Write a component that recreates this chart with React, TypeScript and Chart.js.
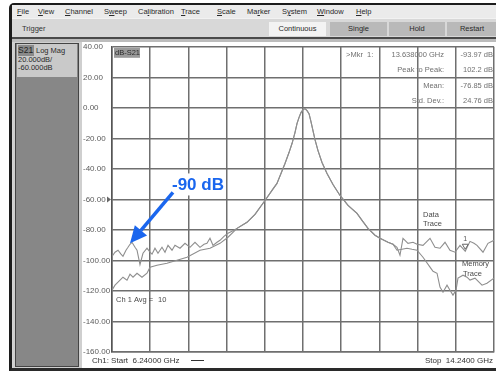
import React, { useEffect, useRef } from "react";
import { Chart, registerables } from "chart.js";
Chart.register(...registerables);

const FONT = '"Liberation Sans", Arial, sans-serif';
const GRID = "#6f6f6f";
const TRACE = "#8e8e8e";

// Axis ticks
const xGridGHz = [6.24, 7.04, 7.84, 8.64, 9.44, 10.24, 11.04, 11.84, 12.64, 13.44, 14.24];
const yTicksDb = [-160, -140, -120, -100, -80, -60, -40, -20, 0, 20, 40];

// Data trace, left noise floor
const dataLeftGHz = [6.240, 6.303, 6.366, 6.428, 6.470, 6.533, 6.575, 6.617, 6.659, 6.722, 6.764, 6.826, 6.889, 6.973, 7.036, 7.078, 7.140, 7.203, 7.287, 7.350, 7.413, 7.497, 7.559, 7.664, 7.769, 7.873, 7.978, 8.083, 8.167, 8.229, 8.292, 8.355, 8.439, 8.502, 8.585, 8.669, 8.753];
const dataLeftDb = [-97.3, -94.6, -93.3, -95.9, -97.3, -93.3, -91.4, -89.4, -88.1, -91.4, -93.3, -102.7, -95.3, -92.0, -94.6, -95.9, -92.0, -95.3, -91.4, -94.6, -90.1, -93.3, -90.1, -92.0, -88.8, -91.4, -88.1, -91.4, -89.4, -88.8, -85.5, -90.1, -88.1, -86.8, -84.2, -82.2, -80.9];

// Memory trace, left
const memLeftGHz = [6.240, 6.303, 6.366, 6.470, 6.554, 6.617, 6.680, 6.764, 6.868, 6.973, 7.036, 7.182, 7.392, 7.601, 7.811, 8.083, 8.292, 8.502, 8.669];
const memLeftDb = [-119.5, -116.2, -114.2, -111.0, -112.9, -109.0, -111.0, -108.4, -111.0, -108.4, -104.4, -103.1, -101.8, -99.9, -97.9, -93.3, -92.0, -88.8, -84.8];

// Resonance, common to both traces
const sharedGHz = [8.858, 9.067, 9.235, 9.444, 9.591, 9.695, 9.779, 9.863, 9.947, 10.010, 10.072, 10.114, 10.156, 10.198, 10.240, 10.282, 10.324, 10.366, 10.407, 10.449, 10.491, 10.554, 10.638, 10.743, 10.868, 11.015, 11.183, 11.371, 11.476, 11.601, 11.748, 11.852, 12.020, 12.125];
const sharedDb = [-79.0, -75.0, -69.8, -60.7, -54.1, -49.5, -43.0, -36.5, -29.3, -23.4, -16.2, -10.3, -6.4, -3.1, -1.2, -0.5, -1.8, -3.8, -9.0, -14.9, -20.8, -28.0, -35.8, -43.0, -50.2, -57.4, -63.9, -69.2, -73.7, -79.0, -83.5, -85.5, -88.1, -89.4];

// Data trace, right
const dataRightGHz = [12.208, 12.271, 12.334, 12.439, 12.544, 12.628, 12.753, 12.837, 12.900, 13.004, 13.109, 13.214, 13.318, 13.423, 13.528, 13.638, 13.737, 13.821, 13.884, 14.010, 14.114, 14.240];
const dataRightDb = [-91.4, -96.6, -85.5, -88.8, -88.1, -89.4, -90.1, -87.5, -85.5, -91.4, -92.0, -88.1, -93.3, -94.6, -90.1, -93.97, -87.5, -88.8, -90.1, -94.6, -88.8, -86.8];

// Memory trace, right
const memRightGHz = [12.208, 12.313, 12.418, 12.523, 12.628, 12.753, 12.900, 12.963, 13.047, 13.109, 13.172, 13.256, 13.318, 13.381, 13.444, 13.486, 13.591, 13.675, 13.737, 13.842, 13.905, 13.989, 14.093, 14.240];
const memRightDb = [-93.3, -92.7, -92.0, -92.7, -93.3, -97.9, -104.4, -107.1, -108.4, -117.5, -120.8, -116.2, -119.5, -122.7, -119.5, -111.6, -109.7, -111.0, -112.9, -111.6, -113.6, -116.2, -114.9, -111.6];

// Marker / annotation values
const markerGHz = 13.638;
const markerDb = -93.97;
const refLevelDb = -60;
const arrowFrom = [7.517, -55.4];
const arrowTo = [6.617, -88.8];
const arrowLabelAt = [7.496, -50.2];

const menuItems: [string, number, number][] = [
  ["File", 17, 0], ["View", 38, 0], ["Channel", 65, 0], ["Sweep", 104, 1], ["Calibration", 138, 2],
  ["Trace", 181, 0], ["Scale", 217, 0], ["Marker", 247, 2], ["System", 282, 1], ["Window", 317, 0], ["Help", 356, 0],
];

function pts(xs: number[], ys: number[]) {
  return xs.map((x, i) => ({ x, y: ys[i] }));
}

const overlay = {
  id: "overlay",
  afterDraw(chart: any) {
    const { ctx, chartArea: a, scales } = chart;
    const sx = scales.x, sy = scales.y;
    ctx.save();
    ctx.textBaseline = "middle";
    // dB-S21 tag
    ctx.fillStyle = "#9a9a9a";
    ctx.fillRect(a.left + 2, a.top + 1, 26, 10);
    ctx.font = `7.5px ${FONT}`;
    ctx.fillStyle = "#2a2a2a";
    ctx.textAlign = "left";
    ctx.fillText("dB-S21", a.left + 3, a.top + 6.5);

    // marker readout
    ctx.fillStyle = "#707070";
    ctx.font = `7.5px ${FONT}`;
    ctx.textAlign = "left";
    ctx.fillText(">Mkr  1:", a.left + 234, a.top + 8);
    ctx.textAlign = "right";
    const c1 = a.left + 332, c2 = a.right - 1;
    ctx.fillText("13.638000 GHz", c1, a.top + 8);
    ctx.fillText("-93.97 dB", c2, a.top + 8);
    ctx.fillText("Peak to Peak:", c1, a.top + 23);
    ctx.fillText("102.2 dB", c2, a.top + 23);
    ctx.fillText("Mean:", c1, a.top + 39);
    ctx.fillText("-76.85 dB", c2, a.top + 39);
    ctx.fillText("Std. Dev.:", c1, a.top + 54);
    ctx.fillText("24.76 dB", c2, a.top + 54);

    // averaging
    ctx.textAlign = "left";
    ctx.fillStyle = "#4a4a4a";
    ctx.font = `7.5px ${FONT}`;
    ctx.fillText("Ch 1 Avg =", a.left + 4, a.top + 253);
    ctx.fillText("10", a.left + 46, a.top + 253);

    // trace labels
    ctx.fillStyle = "#4a4a4a";
    ctx.font = `7.5px ${FONT}`;
    ctx.fillText("Data", a.left + 311, a.top + 168);
    ctx.fillText("Trace", a.left + 311, a.top + 177);
    ctx.fillText("Memory", a.left + 350, a.top + 217);
    ctx.fillText("Trace", a.left + 351, a.top + 227);

    // reference level marker
    const ry = sy.getPixelForValue(refLevelDb);
    ctx.fillStyle = "#666";
    ctx.beginPath();
    ctx.moveTo(a.left - 5, ry - 3);
    ctx.lineTo(a.left - 5, ry + 3);
    ctx.lineTo(a.left - 1, ry);
    ctx.closePath();
    ctx.fill();

    // marker 1
    const mx = sx.getPixelForValue(markerGHz), my = sy.getPixelForValue(markerDb);
    ctx.strokeStyle = "#666";
    ctx.lineWidth = 1;
    ctx.beginPath();
    ctx.moveTo(mx - 3, my - 7);
    ctx.lineTo(mx + 3, my - 7);
    ctx.lineTo(mx, my - 2);
    ctx.closePath();
    ctx.stroke();
    ctx.fillStyle = "#555";
    ctx.font = `7px ${FONT}`;
    ctx.textAlign = "center";
    ctx.fillText("1", mx, my - 12);

    // blue annotation
    const tx = sx.getPixelForValue(arrowLabelAt[0]), ty = sy.getPixelForValue(arrowLabelAt[1]);
    ctx.font = `bold 17px ${FONT}`;
    const w = ctx.measureText("-90 dB").width;
    ctx.fillStyle = "#ffffff";
    ctx.fillRect(tx - 2, ty - 11, w + 4, 22);
    ctx.fillStyle = "#1a66ee";
    ctx.textAlign = "left";
    ctx.fillText("-90 dB", tx, ty + 1);

    const x0 = sx.getPixelForValue(arrowFrom[0]), y0 = sy.getPixelForValue(arrowFrom[1]);
    const x1 = sx.getPixelForValue(arrowTo[0]), y1 = sy.getPixelForValue(arrowTo[1]);
    const ang = Math.atan2(y1 - y0, x1 - x0);
    const hl = 17, hw = 8;
    const bx = x1 - hl * Math.cos(ang), by = y1 - hl * Math.sin(ang);
    ctx.strokeStyle = "#1a66ee";
    ctx.lineWidth = 3.5;
    ctx.beginPath();
    ctx.moveTo(x0, y0);
    ctx.lineTo(bx, by);
    ctx.stroke();
    ctx.fillStyle = "#1a66ee";
    ctx.beginPath();
    ctx.moveTo(x1, y1);
    ctx.lineTo(bx + hw * Math.sin(ang), by - hw * Math.cos(ang));
    ctx.lineTo(bx - hw * Math.sin(ang), by + hw * Math.cos(ang));
    ctx.closePath();
    ctx.fill();
    ctx.restore();
  },
};

const abs = (s: React.CSSProperties): React.CSSProperties => ({ position: "absolute", ...s });
const txt: React.CSSProperties = { fontSize: 8, color: "#2a2a2a", whiteSpace: "nowrap", lineHeight: "10px" };

export default function App() {
  const ref = useRef<HTMLCanvasElement>(null);
  useEffect(() => {
    document.body.style.margin = "0";
    const canvas = ref.current!;
    const chart = new Chart(canvas, {
      type: "line",
      data: {
        datasets: [
          {
            label: "Memory Trace",
            data: pts([...memLeftGHz, ...sharedGHz, ...memRightGHz], [...memLeftDb, ...sharedDb, ...memRightDb]),
            borderColor: TRACE, borderWidth: 1.1, pointRadius: 0, tension: 0, fill: false,
          },
          {
            label: "Data Trace",
            data: pts([...dataLeftGHz, ...sharedGHz, ...dataRightGHz], [...dataLeftDb, ...sharedDb, ...dataRightDb]),
            borderColor: TRACE, borderWidth: 1.1, pointRadius: 0, tension: 0, fill: false,
          },
        ],
      },
      options: {
        animation: false,
        responsive: false,
        maintainAspectRatio: false,
        layout: { padding: { left: 1, right: 2, top: 4, bottom: 16 } },
        plugins: { legend: { display: false }, tooltip: { enabled: false } },
        scales: {
          x: {
            type: "linear", min: 6.24, max: 14.24,
            afterBuildTicks: (s: any) => { s.ticks = xGridGHz.map((v) => ({ value: v })); },
            afterFit: (s: any) => { s.height = 0; },
            ticks: { display: false },
            grid: { color: GRID, lineWidth: 1.5, drawTicks: false },
            border: { display: true, color: GRID, width: 1.5 },
          },
          y: {
            type: "linear", min: -160, max: 40,
            afterBuildTicks: (s: any) => { s.ticks = yTicksDb.map((v) => ({ value: v })); },
            afterFit: (s: any) => { s.width = 29; },
            ticks: {
              callback: (v: any) => Number(v).toFixed(2),
              font: { family: FONT, size: 8 }, color: "#5a5a5a", crossAlign: "far", padding: 0,
            },
            grid: { color: GRID, lineWidth: 1.5, drawTicks: false },
            border: { display: true, color: "#555", width: 1.5 },
          },
        },
      } as any,
      plugins: [overlay],
    });
    return () => chart.destroy();
  }, []);

  const mtxt: React.CSSProperties = { ...txt, fontSize: 7.5 };
  return (
    <div style={{ position: "fixed", left: 0, top: 0, width: 496, height: 371, background: "#fff", overflow: "hidden", fontFamily: FONT }}>
      {/* window frame */}
      <div style={abs({ left: 9, top: 3, width: 520, height: 368, background: "#d4d4d4", borderLeft: "3px solid #1c1c1c", borderTop: "2px solid #1c1c1c", borderBottom: "3px solid #2a2a2a", borderTopLeftRadius: 5, boxSizing: "border-box" })} />
      {/* menu bar */}
      <div style={abs({ left: 12, top: 5, width: 484, height: 13, background: "#ebebeb" })} />
      {menuItems.map(([m, x, u]) => (
        <div key={m} style={abs({ left: x, top: 7, ...mtxt })}>
          {m.slice(0, u)}<u>{m[u]}</u>{m.slice(u + 1)}
        </div>
      ))}
      {/* toolbar */}
      <div style={abs({ left: 12, top: 18, width: 484, height: 19, background: "#d8d8d8", borderTop: "1px solid #f2f2f2", boxSizing: "border-box" })} />
      <div style={abs({ left: 22, top: 24, ...mtxt, color: "#333" })}>Trigger</div>
      <div style={abs({ left: 269, top: 22, width: 57, height: 14, background: "#f3f3f3", ...mtxt, lineHeight: "14px", textAlign: "center" })}>Continuous</div>
      <div style={abs({ left: 330, top: 22, width: 57, height: 14, background: "#b9b9b9", ...mtxt, lineHeight: "14px", textAlign: "center" })}>Single</div>
      <div style={abs({ left: 389, top: 22, width: 56, height: 14, background: "#b9b9b9", ...mtxt, lineHeight: "14px", textAlign: "center" })}>Hold</div>
      <div style={abs({ left: 447, top: 22, width: 60, height: 14, background: "#b9b9b9", ...mtxt, lineHeight: "14px", textAlign: "center", paddingRight: 10, boxSizing: "border-box" })}>Restart</div>
      {/* separator */}
      <div style={abs({ left: 12, top: 37, width: 484, height: 2, background: "#4a4a4a" })} />
      <div style={abs({ left: 12, top: 39, width: 484, height: 3, background: "#bcbcbc" })} />
      {/* left panel */}
      <div style={abs({ left: 13, top: 42, width: 69, height: 326, background: "#cfcfcf" })} />
      <div style={abs({ left: 15, top: 43, width: 64, height: 324, background: "#878787", border: "1px solid #444", boxSizing: "border-box" })} />
      <div style={abs({ left: 17, top: 44, width: 60, height: 33, background: "#c9c9c9" })} />
      <div style={abs({ left: 18, top: 45, width: 16, height: 11, background: "#8a8a8a", fontSize: 8.5, lineHeight: "11px", color: "#222" })}>S21</div>
      <div style={abs({ left: 36, top: 45, ...txt, fontSize: 7.5, lineHeight: "11px" })}>Log Mag</div>
      <div style={abs({ left: 18, top: 55, ...txt, fontSize: 7.5, lineHeight: "9px" })}>20.000dB/</div>
      <div style={abs({ left: 18, top: 63, ...txt, fontSize: 7.5, lineHeight: "9px" })}>-60.000dB</div>
      {/* chart */}
      <canvas ref={ref} width={414} height={326} style={abs({ left: 82, top: 42, width: 414, height: 326, background: "#fff" })} />
      {/* footer */}
      <div style={abs({ left: 92, top: 356, ...txt, color: "#333" })}>Ch1: Start&nbsp; 6.24000 GHz</div>
      <div style={abs({ left: 191, top: 360, width: 13, height: 1, background: "#333" })} />
      <div style={abs({ right: 3, top: 356, ...txt, color: "#333" })}>Stop&nbsp; 14.2400 GHz</div>
    </div>
  );
}
